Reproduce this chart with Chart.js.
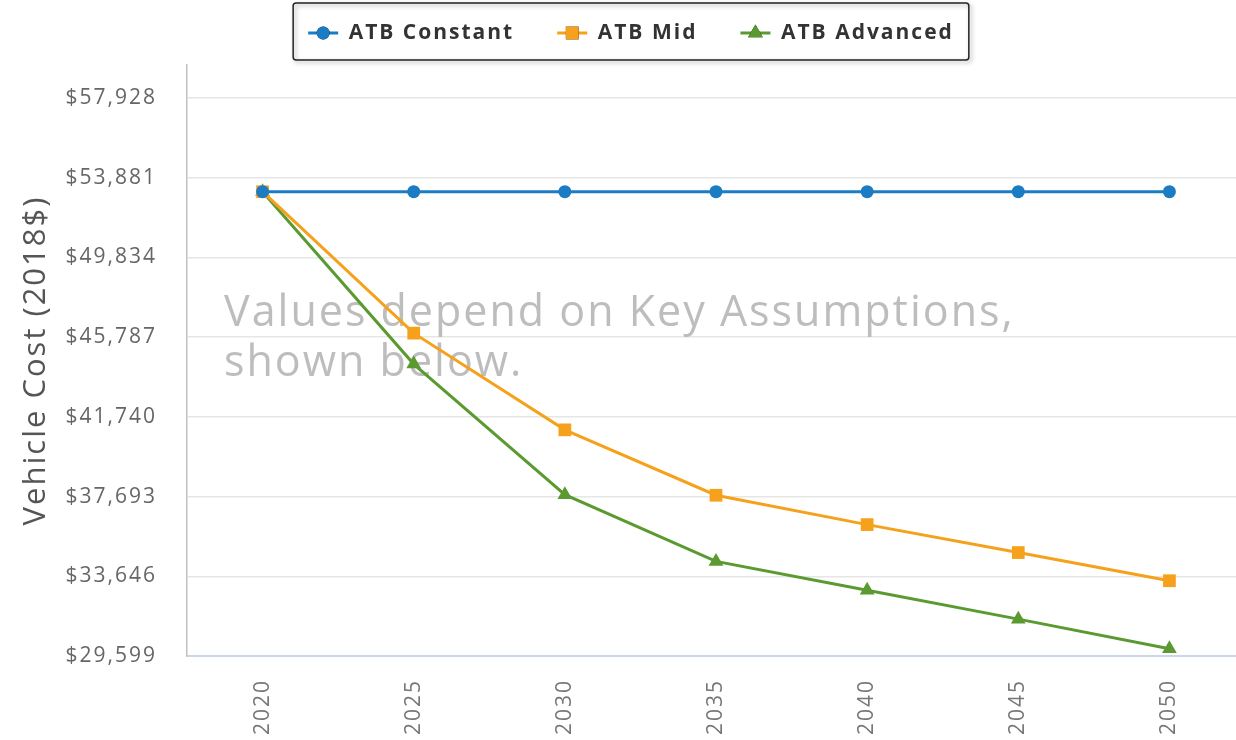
<!DOCTYPE html>
<html>
<head>
<meta charset="utf-8">
<script src="https://cdn.jsdelivr.net/npm/chart.js@4.4.1/dist/chart.umd.min.js"></script>
<style>
  html, body { margin: 0; padding: 0; overflow: hidden; background: #fff; }
  #wrap { position: absolute; left: 0; top: 0; width: 1254px; height: 760px; }
</style>
</head>
<body>
<div id="wrap"><canvas id="cost-chart"></canvas></div>
<script>
// Vehicle cost projections (2018$)
const years = ['2020', '2025', '2030', '2035', '2040', '2045', '2050'];
const atbConstant = [53170, 53170, 53170, 53170, 53170, 53170, 53170];
const atbMid = [53170, 45990, 41080, 37760, 36270, 34850, 33420];
const atbAdvanced = [53170, 44420, 37790, 34400, 32940, 31470, 29970];
const yTicks = [29599, 33646, 37693, 41740, 45787, 49834, 53881, 57928];

const colors = {
    blue: '#1b7cc3',
    orange: '#f6a11b',
    green: '#5b9a31',
};

const LEGEND_GAP = 8; // blank space before each legend line

function formatDollar(v) {
    return '$' + v.toLocaleString('en-US');
}

// the original renders its text slightly spaced out
const textSpacing = {
    id: 'textSpacing',
    beforeUpdate(chart) {
        chart.ctx.letterSpacing = '2px';
    },
    beforeDraw(chart) {
        chart.ctx.letterSpacing = '2px';
    },
};

// framed legend with line + marker per series
const legendFrame = {
    id: 'legendFrame',
    afterDraw(chart) {
        const lg = chart.legend;
        if (!lg || !lg.legendHitBoxes.length) return;
        const ctx = chart.ctx;
        const boxes = lg.legendHitBoxes;
        const last = boxes[boxes.length - 1];
        const x0 = boxes[0].left + LEGEND_GAP - 15;
        const x1 = last.left + last.width + 15;
        const y0 = 3, y1 = 60;
        ctx.save();
        ctx.shadowColor = 'rgba(0,0,0,0.35)';
        ctx.shadowBlur = 4;
        ctx.shadowOffsetX = 2;
        ctx.shadowOffsetY = 2;
        ctx.strokeStyle = '#222';
        ctx.lineWidth = 1.5;
        ctx.beginPath();
        ctx.roundRect(x0, y0, x1 - x0, y1 - y0, 3);
        ctx.stroke();
        ctx.restore();

        lg.legendItems.forEach((item, i) => {
            const ds = chart.data.datasets[item.datasetIndex];
            const b = boxes[i];
            const lx = b.left + LEGEND_GAP;
            const cy = b.top + b.height / 2;
            ctx.save();
            ctx.strokeStyle = ds.borderColor;
            ctx.lineWidth = 3;
            ctx.beginPath();
            ctx.moveTo(lx, cy);
            ctx.lineTo(lx + 30, cy);
            ctx.stroke();
            Chart.helpers.drawPoint(ctx, {
                pointStyle: ds.pointStyle,
                radius: ds.pointRadius,
                rotation: 0,
                borderWidth: 0,
            }, lx + 15, cy);
            ctx.fillStyle = ds.backgroundColor;
            ctx.fill();
            ctx.restore();
        });
    },
};

// grey note drawn behind the lines
const noteText = {
    id: 'noteText',
    beforeDatasetsDraw(chart) {
        const ctx = chart.ctx;
        ctx.save();
        ctx.font = '43px "Open Sans"';
        ctx.fillStyle = '#bdbdbd';
        ctx.textBaseline = 'alphabetic';
        ctx.fillText('Values depend on Key Assumptions,', 224, 326);
        ctx.fillText('shown below.', 224, 376);
        ctx.restore();
    },
};

function createCostChart() {
    const ctx = document.getElementById('cost-chart');
    if (!ctx) return;

    new Chart(ctx, {
        type: 'line',
        data: {
            labels: years,
            datasets: [
                {
                    label: 'ATB Constant',
                    data: atbConstant,
                    borderColor: colors.blue,
                    backgroundColor: colors.blue,
                    pointStyle: 'circle',
                    pointRadius: 6.5,
                },
                {
                    label: 'ATB Mid',
                    data: atbMid,
                    borderColor: colors.orange,
                    backgroundColor: colors.orange,
                    pointStyle: 'rect',
                    pointRadius: 9,
                },
                {
                    label: 'ATB Advanced',
                    data: atbAdvanced,
                    borderColor: colors.green,
                    backgroundColor: colors.green,
                    pointStyle: 'triangle',
                    pointRadius: 8.5,
                },
            ],
        },
        options: {
            responsive: true,
            maintainAspectRatio: false,
            animation: false,
            layout: {
                padding: { left: 0, top: -24, right: 0, bottom: 0 },
            },
            elements: {
                line: { borderWidth: 3, tension: 0 },
                point: { borderWidth: 0 },
            },
            plugins: {
                legend: {
                    position: 'top',
                    labels: {
                        font: { family: 'Open Sans', size: 21, weight: 'bold' },
                        color: '#333',
                        boxWidth: LEGEND_GAP + 30,
                        boxHeight: 44,
                        padding: 35,
                        generateLabels: (chart) =>
                            Chart.defaults.plugins.legend.labels.generateLabels(chart).map((l) => ({
                                ...l,
                                fillStyle: 'rgba(0,0,0,0)',
                                strokeStyle: 'rgba(0,0,0,0)',
                                lineWidth: 0,
                            })),
                    },
                },
                tooltip: { enabled: false },
            },
            scales: {
                x: {
                    offset: true,
                    afterFit: (scale) => {
                        scale.height = 104;
                    },
                    grid: { display: false, drawTicks: false },
                    border: { color: '#ccd6eb', width: 2 },
                    ticks: {
                        minRotation: 90,
                        maxRotation: 90,
                        padding: 23,
                        color: '#777',
                        font: { family: 'Open Sans', size: 21 },
                    },
                },
                y: {
                    min: 29599,
                    max: 59603,
                    afterFit: (scale) => {
                        scale.width = 187;
                    },
                    afterBuildTicks: (axis) => {
                        axis.ticks = yTicks.map((v) => ({ value: v }));
                    },
                    grid: { color: '#e6e6e6', lineWidth: 1.5, drawTicks: false },
                    border: { color: '#c0c0c0', width: 1.5 },
                    ticks: {
                        padding: 30,
                        color: '#666',
                        font: { family: 'Open Sans', size: 21 },
                        callback: (v) => formatDollar(v),
                    },
                    title: {
                        display: true,
                        text: 'Vehicle Cost (2018$)',
                        color: '#555',
                        font: { family: 'Open Sans', size: 31 },
                        padding: { top: 18, bottom: 0 },
                    },
                },
            },
        },
        plugins: [textSpacing, noteText, legendFrame],
    });
}

document.addEventListener('DOMContentLoaded', createCostChart);
</script>
</body>
</html>
